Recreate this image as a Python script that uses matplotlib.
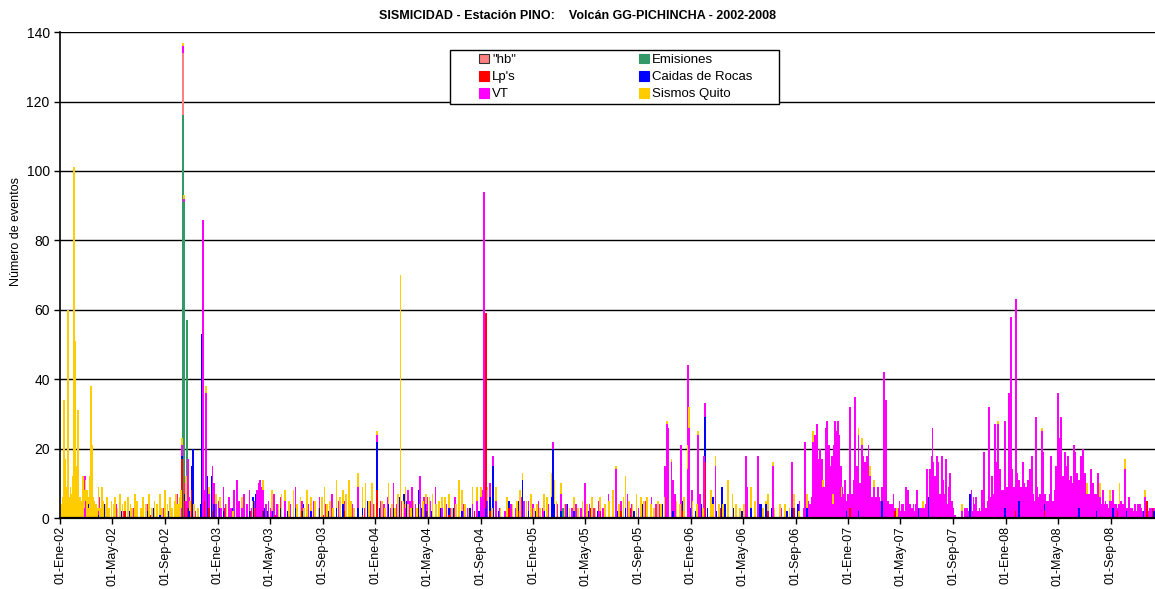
import datetime
import numpy as np
import matplotlib
matplotlib.use("Agg")
import matplotlib.pyplot as plt
from matplotlib.patches import Patch, Rectangle

plt.rcParams["font.family"] = ["Liberation Sans", "DejaVu Sans"]

# ---------------- data (day = days since 01-Ene-2002, value = events) ----------------
START = datetime.date(2002, 1, 1)
N_DAYS = 2545

emisiones = [(284, 116), (286, 91), (294, 57), (1165, 3), (2220, 2)]

hb = [(284, 18), (300, 2)]

lps = [(90, 1), (150, 2), (210, 1), (282, 17), (288, 5), (295, 3), (305, 8), (329, 20), (334, 5),
       (345, 3), (352, 2), (358, 4), (380, 3), (395, 2), (410, 4), (425, 3), (440, 2), (452, 3),
       (470, 2), (500, 1), (560, 2), (610, 1), (660, 2), (700, 1), (734, 8), (770, 2), (800, 3),
       (850, 2), (900, 1), (960, 2), (986, 59), (995, 2), (1040, 3), (1060, 2), (1110, 1),
       (1170, 2), (1230, 3), (1250, 2), (1300, 2), (1320, 3), (1440, 2), (1494, 16), (1530, 3),
       (1640, 2), (1700, 3), (1760, 4), (1810, 6), (1830, 3), (1860, 2), (1890, 3), (1935, 2),
       (2000, 1), (2170, 3), (2215, 2), (2230, 1), (2280, 2), (2350, 1), (2450, 2), (2518, 5),
       (2530, 3)]

caidas = [(55, 3), (58, 5), (62, 2), (66, 4), (88, 2), (102, 4), (106, 3), (112, 2), (125, 3),
          (140, 2), (160, 2), (175, 4), (200, 2), (215, 3), (230, 1), (250, 2), (270, 3), (282, 1),
          (288, 2), (298, 4), (305, 7), (307, 20), (326, 4), (328, 53), (329, 43), (336, 12),
          (341, 12), (350, 12), (356, 4), (370, 3), (378, 2), (392, 4), (398, 3), (412, 2),
          (425, 3), (438, 2), (446, 6), (452, 4), (458, 3), (462, 9), (464, 7), (472, 3), (478, 2),
          (490, 2), (510, 3), (528, 2), (545, 3), (562, 4), (580, 2), (600, 3), (620, 2), (640, 3),
          (655, 4), (672, 2), (690, 3), (700, 2), (712, 5), (720, 3), (734, 14), (740, 3), (748, 2),
          (760, 4), (772, 3), (785, 6), (797, 7), (803, 5), (815, 3), (830, 8), (838, 3), (848, 4),
          (860, 2), (880, 3), (900, 2), (912, 3), (930, 2), (950, 3), (970, 2), (984, 3), (988, 5),
          (995, 4), (1002, 15), (1015, 2), (1040, 2), (1060, 3), (1071, 11), (1085, 2), (1100, 2),
          (1120, 2), (1138, 6), (1141, 20), (1145, 4), (1160, 2), (1175, 4), (1190, 2), (1205, 3),
          (1225, 2), (1245, 2), (1270, 3), (1290, 2), (1310, 3), (1330, 2), (1350, 4), (1370, 3),
          (1395, 4), (1405, 3), (1420, 2), (1440, 3), (1460, 3), (1472, 2), (1485, 4), (1494, 13),
          (1500, 3), (1513, 6), (1520, 2), (1534, 9), (1540, 4), (1560, 3), (1580, 2), (1600, 3),
          (1620, 4), (1624, 4), (1636, 4), (1650, 3), (1670, 2), (1684, 2), (1695, 3), (1710, 4),
          (1730, 3), (1760, 3), (1790, 4), (1820, 2), (1850, 2), (1880, 3), (1904, 5), (1940, 2),
          (1990, 3), (2012, 6), (2040, 2), (2108, 7), (2137, 4), (2160, 2), (2190, 3), (2221, 5),
          (2250, 4), (2280, 2), (2330, 3), (2361, 3), (2400, 2), (2440, 3), (2470, 2), (2510, 2),
          (2535, 2)]

vt = [(57, 12), (62, 4), (75, 3), (90, 5), (110, 3), (130, 4), (145, 2), (170, 3), (200, 2),
      (240, 3), (270, 4), (280, 3), (282, 3), (284, 2), (286, 1), (288, 3), (291, 5), (295, 14),
      (298, 2), (312, 2), (331, 86), (334, 3), (338, 36), (345, 4), (352, 13), (356, 6), (360, 4),
      (366, 5), (372, 3), (378, 7), (384, 4), (390, 6), (396, 3), (402, 8), (409, 11), (414, 5),
      (420, 3), (426, 7), (432, 4), (438, 6), (444, 3), (450, 5), (455, 8), (460, 10), (463, 11),
      (466, 9), (470, 6), (476, 4), (482, 5), (488, 3), (495, 7), (502, 4), (510, 3), (520, 5),
      (532, 4), (545, 6), (560, 3), (575, 4), (588, 5), (600, 3), (615, 4), (630, 7), (645, 5),
      (660, 3), (675, 4), (690, 6), (705, 3), (718, 5), (726, 4), (734, 2), (742, 5), (750, 4),
      (758, 6), (765, 3), (772, 7), (780, 4), (790, 5), (798, 4), (805, 8), (810, 5), (815, 6),
      (823, 4), (834, 12), (842, 6), (850, 4), (856, 5), (869, 9), (876, 4), (885, 3), (895, 4),
      (905, 3), (915, 6), (925, 10), (935, 4), (945, 3), (955, 4), (965, 5), (975, 6), (980, 8),
      (982, 94), (988, 3), (990, 5), (995, 4), (1002, 3), (1010, 5), (1018, 3), (1030, 2),
      (1045, 4), (1055, 3), (1068, 6), (1075, 5), (1085, 3), (1095, 4), (1108, 5), (1118, 3),
      (1130, 4), (1141, 2), (1152, 4), (1160, 5), (1172, 4), (1185, 3), (1195, 4), (1206, 3),
      (1216, 10), (1226, 4), (1236, 3), (1248, 5), (1258, 3), (1270, 4), (1288, 14), (1300, 3),
      (1314, 7), (1325, 4), (1340, 3), (1355, 5), (1370, 3), (1380, 4), (1388, 4), (1402, 15),
      (1406, 27), (1409, 26), (1416, 16), (1420, 9), (1425, 7), (1439, 21), (1453, 14),
      (1455, 44), (1457, 26), (1464, 8), (1478, 24), (1483, 7), (1492, 18), (1494, 4), (1518, 15),
      (1566, 4), (1589, 18), (1592, 9), (1617, 18), (1652, 15), (1671, 3), (1695, 13), (1713, 5),
      (1725, 22), (1743, 13), (1745, 22), (1749, 24), (1753, 27), (1757, 17), (1761, 20),
      (1765, 17), (1768, 9), (1773, 26), (1777, 28), (1781, 21), (1784, 15), (1788, 18),
      (1792, 21), (1796, 28), (1800, 25), (1802, 28), (1805, 24), (1809, 15), (1813, 9),
      (1819, 11), (1824, 7), (1830, 29), (1834, 7), (1838, 11), (1842, 35), (1846, 15),
      (1850, 22), (1854, 10), (1858, 21), (1861, 18), (1865, 16), (1869, 18), (1873, 21),
      (1877, 12), (1881, 6), (1886, 9), (1891, 6), (1895, 9), (1904, 4), (1909, 42), (1914, 34),
      (1919, 5), (1927, 4), (1931, 7), (1945, 5), (1953, 4), (1960, 9), (1965, 8), (1969, 4),
      (1977, 4), (1985, 8), (1993, 3), (1999, 3), (2008, 14), (2016, 14), (2020, 18), (2021, 26),
      (2023, 16), (2027, 12), (2031, 18), (2035, 16), (2039, 7), (2043, 18), (2046, 11),
      (2051, 7), (2053, 17), (2058, 9), (2062, 13), (2066, 5), (2070, 3), (2089, 2), (2097, 3),
      (2101, 3), (2112, 8), (2116, 6), (2122, 6), (2136, 8), (2141, 19), (2146, 3), (2152, 32),
      (2159, 12), (2166, 27), (2169, 16), (2173, 27), (2177, 14), (2181, 8), (2185, 8), (2190, 25),
      (2198, 36), (2201, 30), (2204, 58), (2206, 14), (2215, 61), (2217, 13), (2221, 6),
      (2227, 7), (2231, 16), (2236, 7), (2243, 11), (2247, 14), (2252, 18), (2261, 29), (2264, 9),
      (2270, 4), (2275, 25), (2278, 19), (2284, 5), (2288, 5), (2294, 7), (2296, 18), (2301, 5),
      (2305, 8), (2308, 15), (2312, 36), (2315, 23), (2319, 29), (2324, 12), (2328, 19),
      (2333, 15), (2336, 18), (2340, 7), (2342, 12), (2349, 21), (2352, 19), (2356, 13),
      (2361, 8), (2366, 18), (2370, 20), (2374, 13), (2380, 7), (2384, 7), (2388, 14), (2393, 10),
      (2398, 7), (2400, 5), (2405, 13), (2409, 6), (2417, 8), (2421, 4), (2426, 3), (2432, 5),
      (2440, 5), (2444, 4), (2455, 4), (2463, 4), (2468, 14), (2477, 6), (2484, 3), (2491, 4),
      (2498, 4), (2502, 4), (2514, 6), (2528, 3)]

quito = [(2, 4), (5, 6), (8, 34), (10, 17), (12, 5), (14, 9), (17, 60), (20, 6), (23, 9), (25, 5),
         (28, 12), (31, 101), (33, 15), (35, 51), (37, 15), (40, 31), (42, 9), (45, 6), (48, 4),
         (52, 12), (55, 5), (58, 6), (61, 8), (64, 3), (67, 12), (70, 38), (73, 21), (76, 6),
         (79, 5), (83, 4), (88, 7), (92, 3), (96, 9), (100, 5), (104, 4), (108, 6), (113, 3),
         (118, 5), (123, 4), (127, 6), (132, 3), (138, 7), (144, 4), (150, 3), (156, 6), (162, 4),
         (166, 3), (172, 7), (178, 5), (186, 3), (192, 6), (198, 4), (205, 7), (212, 3), (218, 5),
         (224, 4), (230, 6), (236, 3), (242, 8), (248, 4), (254, 6), (259, 3), (264, 5), (268, 7),
         (273, 4), (277, 6), (280, 5), (282, 2), (284, 1), (286, 1), (291, 7), (300, 3), (310, 4),
         (318, 3), (338, 2), (345, 2), (360, 3), (370, 3), (385, 4), (400, 2), (420, 3), (445, 5),
         (470, 3), (490, 6), (505, 4), (512, 7), (520, 3), (530, 5), (540, 8), (548, 4), (556, 6),
         (565, 3), (572, 8), (580, 4), (590, 5), (598, 3), (606, 6), (612, 9), (618, 4), (625, 5),
         (632, 3), (640, 8), (648, 6), (655, 4), (662, 7), (668, 11), (674, 5), (680, 3), (690, 4),
         (700, 6), (707, 10), (715, 5), (722, 10), (728, 4), (734, 1), (745, 5), (752, 3),
         (760, 6), (768, 4), (775, 3), (782, 7), (788, 70), (795, 5), (800, 6), (806, 4), (812, 3),
         (818, 5), (826, 3), (832, 4), (840, 5), (848, 3), (855, 6), (862, 7), (870, 4), (878, 5),
         (885, 3), (892, 6), (900, 4), (908, 3), (916, 4), (923, 11), (930, 6), (938, 4), (946, 3),
         (955, 5), (965, 4), (975, 3), (990, 4), (1000, 3), (1010, 4), (1020, 3), (1035, 6),
         (1048, 4), (1058, 5), (1065, 8), (1071, 2), (1080, 5), (1090, 7), (1098, 3), (1105, 4),
         (1112, 3), (1120, 5), (1128, 6), (1138, 7), (1145, 7), (1150, 5), (1160, 3), (1168, 4),
         (1180, 3), (1190, 4), (1200, 3), (1210, 5), (1220, 4), (1232, 6), (1240, 3), (1250, 4),
         (1262, 4), (1272, 5), (1280, 8), (1288, 1), (1295, 4), (1305, 6), (1310, 9), (1318, 5),
         (1326, 4), (1335, 7), (1345, 6), (1352, 5), (1360, 6), (1368, 4), (1376, 3), (1385, 5),
         (1392, 4), (1400, 6), (1406, 1), (1416, 1), (1428, 5), (1436, 4), (1445, 6), (1453, 7),
         (1457, 6), (1465, 5), (1475, 4), (1478, 1), (1490, 3), (1508, 8), (1512, 4), (1518, 3),
         (1527, 4), (1536, 4), (1548, 11), (1558, 7), (1565, 4), (1575, 3), (1585, 4), (1600, 6),
         (1610, 5), (1628, 3), (1636, 1), (1640, 5), (1652, 1), (1655, 3), (1668, 4), (1680, 4),
         (1690, 3), (1700, 4), (1712, 2), (1730, 4), (1745, 3), (1768, 2), (1790, 3), (1810, 3),
         (1850, 2), (1858, 2), (1877, 3), (1886, 2), (1939, 3), (1999, 2), (2089, 2), (2173, 1),
         (2275, 1), (2380, 3), (2409, 4), (2432, 3), (2455, 6), (2468, 3), (2514, 2)]

# Continuous background levels over the dense periods (one value per 4 or 3 days)
vt_floor_a_start, vt_floor_a = 1720, [3, 4, 2, 5, 4, 6,
    9, 11, 8, 12, 10, 13, 9, 11, 12, 10, 8, 12, 11, 9, 13, 10, 8, 7,
    6, 5, 7, 6, 4, 6, 5, 7, 6, 5, 6, 7, 5, 6, 4, 5,
    4, 3, 5, 4, 6,
    5, 7, 6, 8, 5, 4,
    3, 2, 3, 2, 3, 2, 4, 3, 2, 3, 2, 3, 3, 2, 4, 3, 2, 3, 4, 3, 4,
    5, 6, 7, 5, 6, 7, 6, 5, 7, 6, 5, 6, 4, 5, 3, 2, 1, 0]
vt_floor_b_start, vt_floor_b = 2100, [2, 2, 3, 2, 4, 3, 2, 3, 2, 3, 4, 3,
    5, 6, 5, 7, 6, 8, 5, 7,
    8, 7, 8, 9, 7, 8, 9,
    9, 8, 10, 7, 9, 8, 10, 9, 7, 8,
    6, 7, 5, 8, 6, 7, 5, 6, 7,
    4, 5, 6, 4, 5, 4, 6, 5,
    9, 11, 10, 12, 9, 11, 8, 10, 12, 9, 11, 10, 8, 9, 10,
    6, 7, 5, 8, 6, 5, 7, 6, 5,
    4, 3, 5, 4, 3, 4, 5, 3, 4, 3, 4, 5, 3, 4, 3,
    3, 2, 3, 2, 4, 2, 3, 2, 3, 2, 3, 2, 2, 3, 2, 3, 2, 2]
quito_floor_start, quito_floor = 0, [3, 4, 5, 6, 4, 8, 6, 9, 7, 5, 6, 8, 5, 7, 4, 6, 5, 3, 4, 5,
                                     3, 6, 4, 3, 5, 4, 3, 4, 3]

series_names = ['"hb"', "Lp's", "VT", "Emisiones", "Caidas de Rocas", "Sismos Quito"]
colors = {'"hb"': "#FF8080", "Lp's": "#FF0000", "VT": "#FF00FF",
          "Emisiones": "#339966", "Caidas de Rocas": "#0000FF", "Sismos Quito": "#FFCC00"}

tick_months = [(1, "Ene"), (5, "May"), (9, "Sep")]
years = [2002, 2003, 2004, 2005, 2006, 2007, 2008]


def to_daily(events):
    arr = np.zeros(N_DAYS)
    for d, v in events:
        arr[d] += v
    return arr


stack_order = [("Emisiones", emisiones), ('"hb"', hb), ("Lp's", lps),
               ("Caidas de Rocas", caidas), ("VT", vt), ("Sismos Quito", quito)]
daily = [(name, to_daily(ev)) for name, ev in stack_order]
total = sum(a for _, a in daily)
days = np.arange(N_DAYS)
mask = total > 0

fig = plt.figure(figsize=(11.55, 5.89), dpi=100)
ax = fig.add_axes([0.052, 0.1205, 0.948, 0.825])

# background levels
for start, vals, step, w, name in [(vt_floor_a_start, vt_floor_a, 4, 4.0, "VT"),
                                   (vt_floor_b_start, vt_floor_b, 4, 4.0, "VT"),
                                   (quito_floor_start, quito_floor, 3, 2.5, "Sismos Quito")]:
    pos = start + step * np.arange(len(vals))
    ax.bar(pos, vals, width=w, align="edge", color=colors[name], linewidth=0,
           antialiased=False, zorder=2)

bottom = np.zeros(N_DAYS)
for name, arr in daily:
    sel = mask & (arr > 0)
    ax.bar(days[sel], arr[sel], bottom=bottom[sel], width=3.9, color=colors[name],
           linewidth=0, antialiased=False, zorder=3)
    bottom += arr

ax.set_xlim(-1, 2537)
ax.set_ylim(0, 140)
ax.set_yticks(np.arange(0, 141, 20))
ax.yaxis.grid(True, color="black", linewidth=1.0)
ax.set_axisbelow(True)
for s in ["top", "right"]:
    ax.spines[s].set_visible(False)
ax.spines["left"].set_linewidth(1.2)
ax.spines["bottom"].set_linewidth(1.6)
ax.spines["bottom"].set_zorder(5)

tick_pos, tick_lab = [], []
for y in years:
    for m, lab in tick_months:
        d = (datetime.date(y, m, 1) - START).days
        if d <= 2537:
            tick_pos.append(d)
            tick_lab.append(f"01-{lab}-{str(y)[2:]}")
ax.set_xticks(tick_pos)
ax.set_xticklabels(tick_lab, rotation=90, fontsize=9)
ax.tick_params(axis="y", labelsize=10, length=4, width=1)
ax.tick_params(axis="x", length=4, width=1, pad=2)
ax.set_ylabel("Número de eventos", fontsize=9)
ax.yaxis.set_label_coords(-0.0347, 0.59)

fig.text(0.5, 0.972, "SISMICIDAD - Estación PINO:    Volcán GG-PICHINCHA - 2002-2008",
         ha="center", va="center", fontsize=9, fontweight="bold")

# legend frame (450..779 px, 50..104 px in the figure)
x0, x1 = (450 - 60) / 1095, (779 - 60) / 1095
y0, y1 = (518 - 104) / 486, (518 - 50) / 486
ax.add_patch(Rectangle((x0, y0), x1 - x0, y1 - y0, transform=ax.transAxes, facecolor="white",
                       edgecolor="black", linewidth=1.0, zorder=9, clip_on=False))

handles = []
for name in series_names:
    ec = "#333333" if name == '"hb"' else colors[name]
    handles.append(Patch(facecolor=colors[name], edgecolor=ec, linewidth=0.8, label=name))
leg = ax.legend(handles=handles, ncol=2, loc="center left",
                bbox_to_anchor=((479 - 60) / 1095, (y0 + y1) / 2),
                fontsize=9.5, frameon=False, handlelength=0.75, handleheight=0.75,
                handletextpad=0.25, labelspacing=0.35, columnspacing=9.3,
                borderpad=0, borderaxespad=0)
leg.set_zorder(10)

fig.savefig("out.png", dpi=100)
